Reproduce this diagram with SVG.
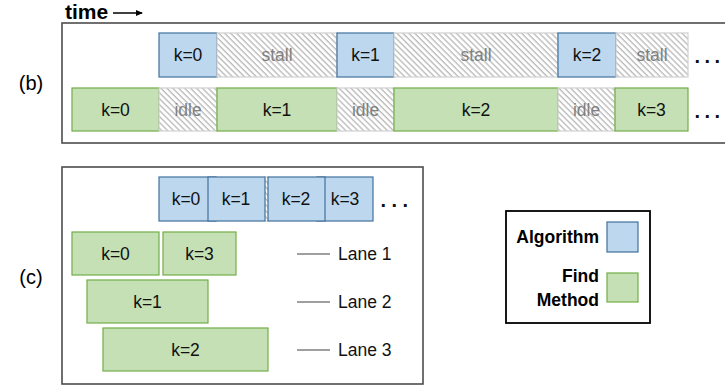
<svg xmlns="http://www.w3.org/2000/svg" width="725" height="389" viewBox="0 0 725 389">
<defs>
<pattern id="hatch" patternUnits="userSpaceOnUse" width="4.2" height="4.2" patternTransform="rotate(-45)">
<rect width="4.2" height="4.2" fill="#ffffff"/>
<line x1="1" y1="0" x2="1" y2="4.2" stroke="#b8b8b8" stroke-width="1.3"/>
</pattern>
<marker id="arr" markerWidth="8" markerHeight="8" refX="6" refY="3" orient="auto" markerUnits="userSpaceOnUse">
<path d="M0,0 L7,3 L0,6 Z" fill="#000"/>
</marker>
<style>
.frame{fill:#fff;stroke:#4d4d4d;stroke-width:1.6}
.alg{fill:#bdd7ee;stroke:#41719c;stroke-width:1.2}
.fm{fill:#c5e0b4;stroke:#70ad47;stroke-width:1.2}
.hat{fill:url(#hatch);stroke:#d0d0d0;stroke-width:1.2}
.t{font-family:"Liberation Sans",Arial,sans-serif;font-size:17.5px;fill:#111;text-anchor:middle}
.g{fill:#808080}
.b{font-weight:bold;fill:#000}
.dots{font-family:"Liberation Sans",Arial,sans-serif;font-size:20px;font-weight:bold;fill:#111}
.lbl{font-family:"Liberation Sans",Arial,sans-serif;font-size:20px;fill:#000;text-anchor:middle}
.lane{stroke:#404040;stroke-width:1.2}
</style>
</defs>

<g id="header">
<text x="65" y="19" font-family="Liberation Sans, Arial, sans-serif" font-size="21" font-weight="bold">time</text>
<line x1="113" y1="13" x2="142" y2="13" stroke="#000" stroke-width="1.5" marker-end="url(#arr)"/>
</g>

<g id="label-b"><text class="lbl" x="31" y="90">(b)</text></g>
<g id="label-c"><text class="lbl" x="31" y="284">(c)</text></g>

<g id="panel-b">
<rect class="frame" x="62" y="23" width="668" height="120"/>
<g id="b-alg0"><rect class="alg" x="159" y="33" width="58" height="44"/><text class="t" x="188" y="61">k=0</text></g>
<g id="b-stall1"><rect class="hat" x="217" y="33" width="120" height="44"/><text class="t g" x="277" y="61">stall</text></g>
<g id="b-alg1"><rect class="alg" x="337" y="33" width="57" height="44"/><text class="t" x="365.5" y="61">k=1</text></g>
<g id="b-stall2"><rect class="hat" x="394" y="33" width="164" height="44"/><text class="t g" x="476" y="61">stall</text></g>
<g id="b-alg2"><rect class="alg" x="558" y="33" width="58" height="44"/><text class="t" x="587" y="61">k=2</text></g>
<g id="b-stall3"><rect class="hat" x="616" y="33" width="72" height="44"/><text class="t g" x="652" y="61">stall</text></g>
<text class="dots" x="694.5" y="63" dx="0 4.4 4.4">...</text>

<g id="b-fm0"><rect class="fm" x="72" y="88" width="87" height="43"/><text class="t" x="115.5" y="116">k=0</text></g>
<g id="b-idle1"><rect class="hat" x="159" y="88" width="58" height="43"/><text class="t g" x="188" y="116">idle</text></g>
<g id="b-fm1"><rect class="fm" x="217" y="88" width="120" height="43"/><text class="t" x="277" y="116">k=1</text></g>
<g id="b-idle2"><rect class="hat" x="337" y="88" width="57" height="43"/><text class="t g" x="365.5" y="116">idle</text></g>
<g id="b-fm2"><rect class="fm" x="394" y="88" width="164" height="43"/><text class="t" x="476" y="116">k=2</text></g>
<g id="b-idle3"><rect class="hat" x="558" y="88" width="57" height="43"/><text class="t g" x="586.5" y="116">idle</text></g>
<g id="b-fm3"><rect class="fm" x="615" y="88" width="73" height="43"/><text class="t" x="651.5" y="116">k=3</text></g>
<text class="dots" x="694.5" y="118" dx="0 4.4 4.4">...</text>
</g>

<g id="panel-c">
<rect class="frame" x="62" y="167" width="361" height="217"/>
<rect class="hat" x="264" y="177" width="5" height="44" stroke="none"/>
<g id="c-alg0"><rect class="alg" x="159" y="177" width="57" height="44"/><text class="t" x="186" y="205">k=0</text></g>
<g id="c-alg1"><rect class="alg" x="208" y="177" width="57" height="44"/><text class="t" x="236" y="205">k=1</text></g>
<g id="c-alg3"><rect class="alg" x="317" y="177" width="56" height="44"/><text class="t" x="345" y="205">k=3</text></g>
<g id="c-alg2"><rect class="alg" x="268" y="177" width="57" height="44"/><text class="t" x="296" y="205">k=2</text></g>
<text class="dots" x="380.5" y="207" dx="0 5.4 5.4">...</text>

<g id="c-fm0"><rect class="fm" x="72" y="232" width="87" height="43"/><text class="t" x="115.5" y="260">k=0</text></g>
<g id="c-fm3"><rect class="fm" x="163" y="232" width="73" height="43"/><text class="t" x="199.5" y="260">k=3</text></g>
<g id="c-fm1"><rect class="fm" x="87" y="280" width="121" height="43"/><text class="t" x="147.5" y="308">k=1</text></g>
<g id="c-fm2"><rect class="fm" x="103" y="328" width="165" height="43"/><text class="t" x="185.5" y="356">k=2</text></g>
</g>

<g id="connectors">
<line class="lane" x1="297" y1="254" x2="330" y2="254"/>
<line class="lane" x1="297" y1="302" x2="330" y2="302"/>
<line class="lane" x1="297" y1="350" x2="330" y2="350"/>
</g>

<g id="lane-labels">
<text class="t" x="338" y="260" style="text-anchor:start">Lane 1</text>
<text class="t" x="338" y="308" style="text-anchor:start">Lane 2</text>
<text class="t" x="338" y="356" style="text-anchor:start">Lane 3</text>
</g>

<g id="legend">
<rect x="506" y="211" width="144" height="112" fill="#fff" stroke="#000" stroke-width="1.8"/>
<text class="t b" x="599" y="243" style="text-anchor:end">Algorithm</text>
<rect class="alg" x="607" y="222" width="31" height="30"/>
<text class="t b" x="599" y="282" style="text-anchor:end">Find</text>
<text class="t b" x="599" y="306" style="text-anchor:end">Method</text>
<rect class="fm" x="607" y="273" width="31" height="29"/>
</g>
</svg>
